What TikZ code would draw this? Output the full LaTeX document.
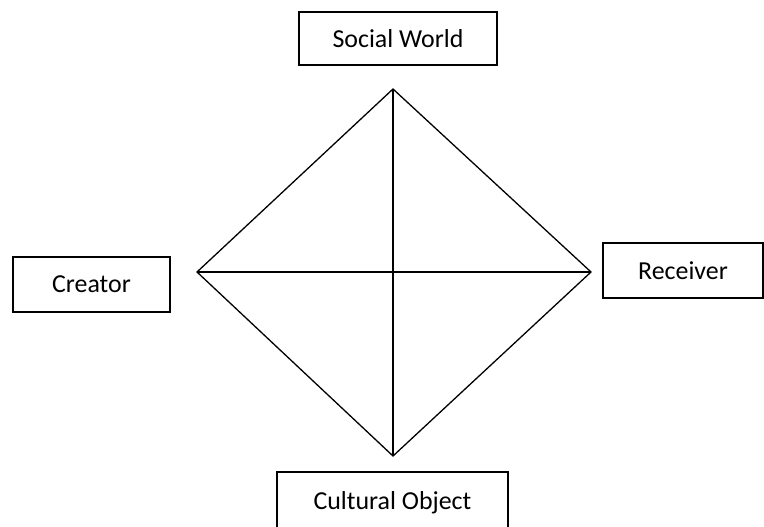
\documentclass[tikz,border=0pt]{standalone}
\usepackage{fontspec}
\setmainfont{Carlito}
\tikzset{
  labelbox/.style={draw, line width=1.6bp, rectangle, inner sep=0pt, font=\fontsize{26}{30}\selectfont},
  edge/.style={line width=1.3bp}
}
\begin{document}
\begin{tikzpicture}[x=1bp,y=-1bp]
\useasboundingbox (0,0) rectangle (764,527);
\clip (0,0) rectangle (764,527);
\node[labelbox, minimum width=198bp, minimum height=53bp] (social) at (398,38.5) {Social World};
\node[labelbox, minimum width=157bp, minimum height=55bp] (creator) at (91.5,284.5) {Creator};
\node[labelbox, minimum width=160bp, minimum height=55bp] (receiver) at (683,270.5) {Receiver};
\node[labelbox, minimum width=231bp, minimum height=62bp] (cultural) at (392.5,503) {Cultural Object};
\coordinate (T) at (393,89);
\coordinate (L) at (197,272);
\coordinate (R) at (591,272);
\coordinate (B) at (393,456);
\draw[edge] (T) -- (R) -- (B) -- (L) -- cycle;
\draw[edge] (T) -- (B);
\draw[edge] (L) -- (R);
\end{tikzpicture}
\end{document}
